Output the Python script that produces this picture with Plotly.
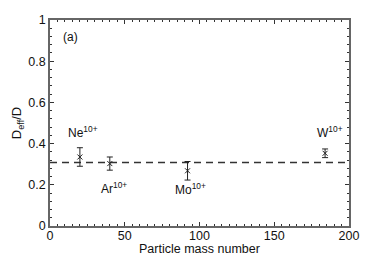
import plotly.graph_objects as go

mass = [20, 40, 92, 184]
ratio = [0.335, 0.303, 0.268, 0.353]
err = [0.045, 0.032, 0.045, 0.021]
labels = ["Ne<sup>10+</sup>", "Ar<sup>10+</sup>", "Mo<sup>10+</sup>", "W<sup>10+</sup>"]
label_x = [22, 43, 94, 187]
label_y = [0.458, 0.185, 0.18, 0.455]
mean_ratio = 0.308
x_range = [0, 200]

FONT = "Liberation Sans, Arial, Helvetica, sans-serif"

fig = go.Figure()
fig.add_trace(go.Scatter(
    x=x_range, y=[mean_ratio, mean_ratio], mode="lines",
    line=dict(color="#333333", width=1.5, dash="7px,5px"),
    showlegend=False, hoverinfo="skip"))
fig.add_trace(go.Scatter(
    x=mass, y=ratio, mode="markers",
    marker=dict(symbol="x-thin", size=5, line=dict(color="#222222", width=1)),
    error_y=dict(type="data", array=err, visible=True, color="#222222",
                 thickness=1, width=3),
    showlegend=False))

for t, lx, ly in zip(labels, label_x, label_y):
    fig.add_annotation(x=lx, y=ly, text=t, showarrow=False,
                       font=dict(family=FONT, size=12, color="#111111"))
fig.add_annotation(x=13.5, y=0.917, text="(a)", showarrow=False,
                   font=dict(family=FONT, size=12, color="#111111"))
fig.add_annotation(x=0.5, y=-0.112, xref="paper", yref="paper",
                   text="Particle mass number", showarrow=False,
                   xanchor="center", yanchor="middle",
                   font=dict(family=FONT, size=12.5, color="#111111"))

axis_common = dict(
    showline=True, linecolor="#666666", linewidth=1.5, mirror="ticks",
    ticks="inside", tickcolor="#333333", ticklen=4, tickwidth=1,
    showgrid=False, zeroline=False, automargin=False,
    tickfont=dict(family=FONT, size=12.5, color="#111111"),
)

fig.update_xaxes(range=x_range, dtick=50, tick0=0, ticklabelstandoff=-3,
                 minor=dict(dtick=5, ticks="inside", ticklen=2, tickcolor="#333333"),
                 **axis_common)
fig.update_yaxes(range=[0, 1], dtick=0.2, tick0=0,
                 minor=dict(dtick=0.04, ticks="inside", ticklen=2, tickcolor="#333333"),
                 title=dict(text="D<sub>eff</sub>/D", standoff=4,
                            font=dict(family=FONT, size=13, color="#111111")),
                 **axis_common)

# page body has an 8px margin, so shrink the figure accordingly
fig.update_layout(
    width=377, height=250,
    margin=dict(l=42, r=36, t=12, b=32),
    paper_bgcolor="white", plot_bgcolor="white",
)

fig.write_html("out.html")
